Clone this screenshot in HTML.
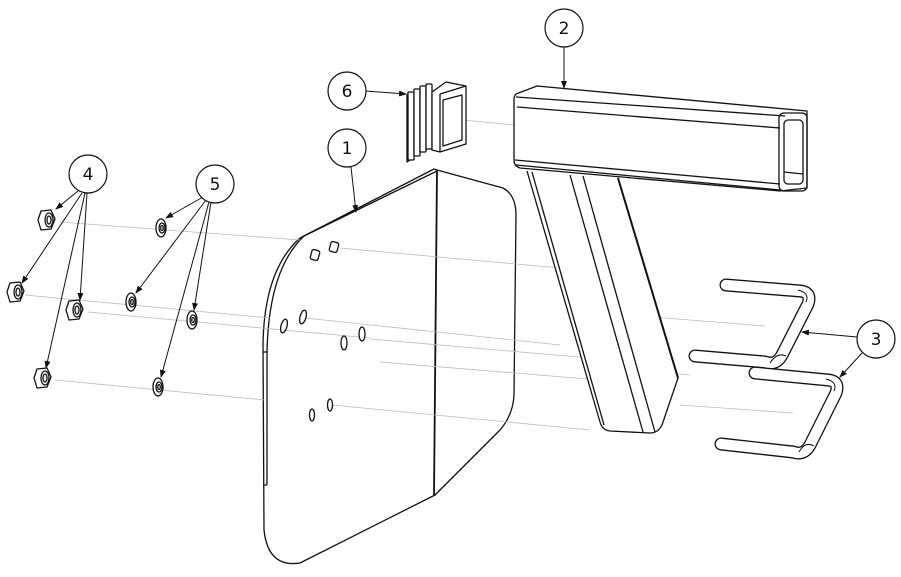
<!DOCTYPE html>
<html><head><meta charset="utf-8"><style>
html,body{margin:0;padding:0;background:#fff;width:901px;height:577px;overflow:hidden}
svg{display:block}
text{font-family:"DejaVu Sans","Liberation Sans",sans-serif;font-size:17px;fill:#111;text-anchor:middle}
</style></head><body>
<svg width="901" height="577" viewBox="0 0 901 577" xmlns="http://www.w3.org/2000/svg">
<defs>
<marker id="a" markerWidth="8" markerHeight="6" refX="7" refY="3" orient="auto" markerUnits="userSpaceOnUse"><path d="M0,0 L8,3 L0,6 Z" fill="#111"/></marker>
</defs>
<g fill="none" stroke="#111" stroke-width="1.3" stroke-linejoin="round">
<!-- Plate 1 -->
<path d="M300,238 L434,169 L437,170 L503,188 Q516,195 516,215 L514,395 Q513,415 500,430 L435,495 L300,563 Q268,568 264,530 L263,345 Q264,270 300,238 Z" fill="#fff"/>
<path d="M304,236 L437,171" />
<path d="M267,355 Q268,270 304,236"/>
<line x1="267" y1="355" x2="267" y2="485"/>
<line x1="263" y1="352" x2="267" y2="352"/>
<line x1="263" y1="485" x2="267" y2="485"/>
<line x1="437" y1="170" x2="434" y2="495" stroke-width="1.8"/>
</g>
<!-- thin gray center lines -->
<g stroke="#bbb" stroke-width="0.8" fill="none">
<line x1="60" y1="222" x2="300" y2="240"/>
<line x1="340" y1="248" x2="560" y2="268"/>
<line x1="25" y1="295" x2="270" y2="318"/>
<line x1="305" y1="318" x2="560" y2="345"/>
<line x1="88" y1="312" x2="370" y2="338"/>
<line x1="370" y1="339" x2="590" y2="358"/>
<line x1="380" y1="362" x2="600" y2="380"/>
<line x1="55" y1="380" x2="265" y2="400"/>
<line x1="332" y1="405" x2="590" y2="430"/>
<line x1="462" y1="120" x2="515" y2="125"/>
<line x1="640" y1="316" x2="765" y2="326"/>
<line x1="680" y1="405" x2="793" y2="413"/>
<line x1="640" y1="370" x2="690" y2="375"/>
</g>
<g fill="none" stroke="#111" stroke-width="1.3" stroke-linejoin="round">
<!-- plate holes -->
<rect x="311" y="250" width="8" height="10" rx="2" transform="rotate(15 315 255)" fill="#fff"/>
<rect x="330" y="242" width="8" height="10" rx="2" transform="rotate(15 334 247)" fill="#fff"/>
<ellipse cx="284" cy="326" rx="3" ry="7" transform="rotate(15 284 326)" fill="#fff"/>
<ellipse cx="303" cy="317" rx="3" ry="7" transform="rotate(15 303 317)" fill="#fff"/>
<ellipse cx="344" cy="343" rx="3" ry="7" fill="#fff"/>
<ellipse cx="362" cy="334" rx="3" ry="7" fill="#fff"/>
<ellipse cx="312" cy="415" rx="2.5" ry="6" fill="#fff"/>
<ellipse cx="330" cy="405" rx="2.5" ry="6" fill="#fff"/>
<!-- Tube 2 leg -->
<path d="M527,171 L600,422 Q602,430 610,431 L650,433 Q658,433 662,425 L678,378 L618,178" fill="#fff"/>
<line x1="532" y1="172" x2="604" y2="425"/>
<line x1="570" y1="175" x2="643" y2="432"/>
<line x1="583" y1="176" x2="655" y2="432"/>
<line x1="618" y1="178" x2="678" y2="378" stroke-width="2"/>
<!-- Tube top -->
<path d="M516,94 L537,86 L807,111 L807,188 L780,191 L520,168 Q514,166 514,160 L514,100 Q514,96 516,94 Z" fill="#fff"/>
<line x1="516" y1="97" x2="785" y2="116"/>
<line x1="517" y1="107" x2="780" y2="128"/>
<line x1="515" y1="160" x2="780" y2="184"/>
<line x1="516" y1="165" x2="780" y2="190"/>
<rect x="779" y="113" width="28" height="78" rx="5"/>
<rect x="784" y="120" width="19" height="64" rx="4"/>
<line x1="784" y1="172" x2="803" y2="174"/>
<!-- Cap 6 -->
<path d="M407,95 L410,92 L410,160 L407,162 Z" fill="#fff"/>
<rect x="408" y="92" width="6" height="68" rx="1" fill="#fff"/>
<rect x="414" y="89" width="6" height="67" rx="1" fill="#fff"/>
<rect x="420" y="86" width="6" height="66" rx="1" fill="#fff"/>
<rect x="426" y="84" width="6" height="65" rx="1" fill="#fff"/>
<path d="M432,92 L446,82 L466,86 L466,144 L440,152 L432,150 Z" fill="#fff"/>
<path d="M440,94 L466,86 M440,94 L440,152"/>
<path d="M443,100 L462,95 L462,140 L443,146 Z"/>
<!-- U bolts 3 -->
<g stroke-linecap="round">
<path d="M726,285 L800,291 Q812,292 808,304 L782,355 Q776,366 765,362 L695,356" stroke="#111" stroke-width="13"/>
<path d="M726,285 L800,291 Q812,292 808,304 L782,355 Q776,366 765,362 L695,356" stroke="#fff" stroke-width="10.4"/>
<path d="M755,373 L828,380 Q840,381 836,393 L810,445 Q804,456 793,452 L721,444" stroke="#111" stroke-width="13"/>
<path d="M755,373 L828,380 Q840,381 836,393 L810,445 Q804,456 793,452 L721,444" stroke="#fff" stroke-width="10.4"/>
</g>
<path d="M798,290 Q810,293 806,302 M770,363 Q777,352 786,356 M826,379 Q838,382 834,391 M799,452 Q805,441 814,446" stroke-width="1"/>
<!-- Nuts 4 -->
<g fill="#fff">
<g transform="translate(47,220)"><path d="M-6,-9 L4,-10 L8,-1 L4,9 L-6,10 L-9,0 Z"/><ellipse cx="2" cy="0" rx="4" ry="7"/><ellipse cx="2" cy="0" rx="2" ry="4"/></g>
<g transform="translate(16,292)"><path d="M-6,-9 L4,-10 L8,-1 L4,9 L-6,10 L-9,0 Z"/><ellipse cx="2" cy="0" rx="4" ry="7"/><ellipse cx="2" cy="0" rx="2" ry="4"/></g>
<g transform="translate(75,310)"><path d="M-6,-9 L4,-10 L8,-1 L4,9 L-6,10 L-9,0 Z"/><ellipse cx="2" cy="0" rx="4" ry="7"/><ellipse cx="2" cy="0" rx="2" ry="4"/></g>
<g transform="translate(43,378)"><path d="M-6,-9 L4,-10 L8,-1 L4,9 L-6,10 L-9,0 Z"/><ellipse cx="2" cy="0" rx="4" ry="7"/><ellipse cx="2" cy="0" rx="2" ry="4"/></g>
<g transform="translate(161,228)"><ellipse rx="5" ry="9"/><ellipse cx="1" rx="3" ry="5"/><ellipse cx="1" rx="1.3" ry="2.5"/></g>
<g transform="translate(131,302)"><ellipse rx="5" ry="9"/><ellipse cx="1" rx="3" ry="5"/><ellipse cx="1" rx="1.3" ry="2.5"/></g>
<g transform="translate(192,320)"><ellipse rx="5" ry="9"/><ellipse cx="1" rx="3" ry="5"/><ellipse cx="1" rx="1.3" ry="2.5"/></g>
<g transform="translate(158,387)"><ellipse rx="5" ry="9"/><ellipse cx="1" rx="3" ry="5"/><ellipse cx="1" rx="1.3" ry="2.5"/></g>
</g>
</g>
<!-- leaders -->
<g stroke="#111" stroke-width="1" fill="none" marker-end="url(#a)">
<line x1="351" y1="167" x2="356" y2="212"/>
<line x1="564" y1="47" x2="564" y2="88"/>
<line x1="857" y1="337" x2="802" y2="332"/>
<line x1="862" y1="353" x2="840" y2="377"/>
<line x1="78" y1="191" x2="56" y2="209"/>
<line x1="82" y1="193" x2="22" y2="283"/>
<line x1="87" y1="193" x2="80" y2="300"/>
<line x1="85" y1="193" x2="46" y2="368"/>
<line x1="203" y1="197" x2="166" y2="218"/>
<line x1="206" y1="200" x2="136" y2="293"/>
<line x1="211" y1="202" x2="194" y2="310"/>
<line x1="209" y1="202" x2="161" y2="377"/>
<line x1="366" y1="91" x2="406" y2="94"/>
</g>
<!-- balloons -->
<g fill="#fff" stroke="#111" stroke-width="1.2">
<circle cx="347" cy="148" r="19"/><circle cx="564" cy="28" r="19"/><circle cx="876" cy="339" r="19"/>
<circle cx="88" cy="174" r="19"/><circle cx="215" cy="184" r="19"/><circle cx="347" cy="91" r="19"/>
</g>
<text x="347" y="154">1</text><text x="564" y="34">2</text><text x="876" y="345">3</text>
<text x="88" y="180">4</text><text x="215" y="190">5</text><text x="347" y="97">6</text>
</svg>
</body></html>
